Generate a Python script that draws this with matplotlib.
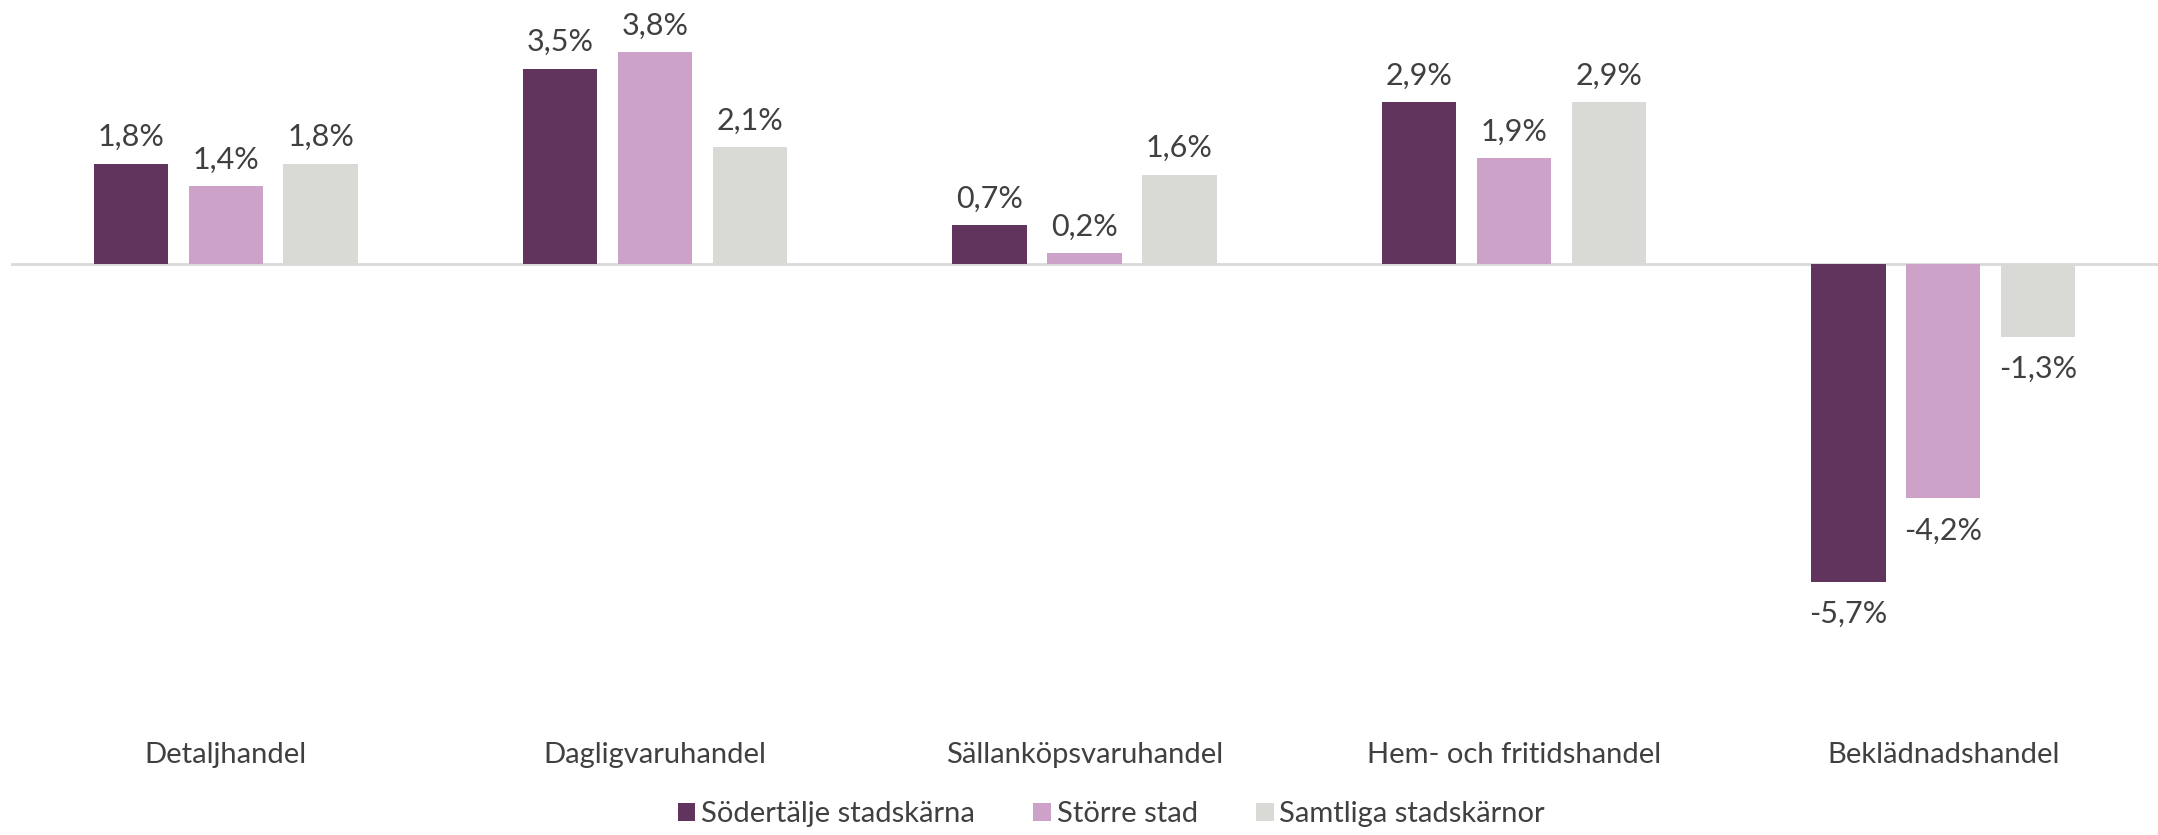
import numpy as np
import matplotlib.pyplot as plt

categories = ["Detaljhandel", "Dagligvaruhandel", "Sällanköpsvaruhandel",
              "Hem- och fritidshandel", "Beklädnadshandel"]
series = ["Södertälje stadskärna", "Större stad", "Samtliga stadskärnor"]
sodertalje = [1.8, 3.5, 0.7, 2.9, -5.7]
storre_stad = [1.4, 3.8, 0.2, 1.9, -4.2]
samtliga = [1.8, 2.1, 1.6, 2.9, -1.3]
colors = ["#61345E", "#CDA2C8", "#D9DAD6"]

plt.rcParams['font.family'] = ['Lato', 'DejaVu Sans']
text_col = "#404040"

W, H = 2158, 835
fig = plt.figure(figsize=(W / 100, H / 100), dpi=100)
# axes in pixel terms: left 11, right 2158, top 0, bottom 720
ax = fig.add_axes([11 / W, 1 - 720 / H, (W - 11) / W, 720 / H])

x = np.arange(len(categories))
width = 0.173
step = 0.221
for i, (vals, name) in enumerate(zip([sodertalje, storre_stad, samtliga], series)):
    pos = x + (i - 1) * step
    bars = ax.bar(pos, vals, width, color=colors[i], label=name, zorder=2)
    for b, v in zip(bars, vals):
        off = 9 if v >= 0 else -13
        ax.annotate(f"{v:.1f}%".replace(".", ","),
                    (b.get_x() + b.get_width() / 2, v),
                    xytext=(0, off), textcoords="offset points",
                    ha="center", va="bottom" if v >= 0 else "top",
                    fontsize=22, color=text_col)

ax.axhline(0, color="#D9D9D9", lw=2, zorder=1)
ax.set_xlim(-0.5, len(categories) - 0.5)
ax.set_ylim(-8.17, 4.73)
ax.set_yticks([])
ax.set_xticks(x)
ax.set_xticklabels(categories, fontsize=21, color=text_col)
ax.tick_params(axis="x", length=0, pad=16)
for s in ax.spines.values():
    s.set_visible(False)

fig.legend(loc="lower center", ncol=3, frameon=False, fontsize=21,
           bbox_to_anchor=(0.515, -0.022), handlelength=0.6, handleheight=0.6,
           handletextpad=0.2, columnspacing=2.0, labelcolor=text_col)

fig.savefig("out.png", dpi=100)
